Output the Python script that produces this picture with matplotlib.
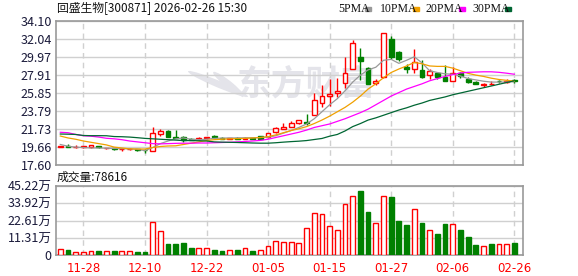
import matplotlib
matplotlib.use("Agg")
import matplotlib.pyplot as plt
from matplotlib.patches import Ellipse, Rectangle
import numpy as np

plt.rcParams['font.family'] = ['Noto Sans CJK SC', 'DejaVu Sans']

title = "回盛生物[300871] 2026-02-26 15:30"
vol_caption = "成交量:78616"

opens = [19.70, 19.78, 19.62, 19.66, 19.64, 19.74, 19.50, 19.52, 19.38, 19.40, 19.42, 19.36,
         19.24, 21.15, 21.50, 20.80, 20.85, 20.62, 20.55, 20.68, 20.95, 20.72, 20.60, 20.70,
         20.62, 20.70, 20.90, 20.78, 21.35, 21.75, 22.00, 22.38, 22.50, 23.30, 24.74, 25.54,
         25.89, 26.96, 28.57, 29.94, 28.72, 26.96, 27.65, 32.04, 30.50, 28.87, 28.57, 28.49,
         27.88, 28.10, 27.65, 27.26, 28.10, 27.46, 27.15, 26.82, 26.86, 27.22, 27.10, 27.32]
highs = [19.80, 20.05, 19.92, 19.78, 19.92, 19.80, 19.60, 19.58, 19.50, 19.50, 19.48, 19.40,
         21.92, 21.73, 21.60, 21.65, 20.95, 20.75, 20.80, 20.85, 21.05, 20.85, 20.72, 20.78,
         20.80, 20.75, 20.95, 21.25, 21.90, 22.38, 22.68, 22.80, 23.40, 25.82, 26.77, 27.42,
         27.54, 29.94, 31.92, 30.97, 28.80, 27.40, 32.69, 32.40, 30.70, 29.20, 30.86, 29.63,
         28.55, 28.30, 29.06, 28.87, 28.20, 27.65, 27.25, 27.05, 27.25, 27.35, 27.40, 27.42]
lows = [19.62, 19.62, 19.58, 19.60, 19.60, 19.60, 19.40, 19.35, 19.18, 19.30, 19.25, 18.98,
        19.17, 20.92, 20.77, 20.70, 20.25, 20.45, 20.45, 20.60, 20.70, 20.55, 20.55, 20.55,
        20.58, 20.55, 20.55, 20.75, 21.30, 21.72, 21.95, 22.30, 22.15, 23.30, 24.30, 24.36,
        25.43, 26.40, 28.57, 27.34, 26.90, 26.80, 27.60, 29.70, 29.50, 28.15, 28.18, 27.60,
        27.50, 27.50, 27.20, 27.20, 27.55, 26.97, 26.85, 26.55, 26.80, 27.05, 27.00, 27.05]
closes = [19.74, 19.68, 19.70, 19.72, 19.86, 19.64, 19.56, 19.42, 19.46, 19.44, 19.32, 19.28,
          21.23, 21.50, 20.84, 20.70, 20.45, 20.52, 20.75, 20.80, 20.80, 20.62, 20.66, 20.62,
          20.72, 20.62, 20.62, 21.23, 21.84, 21.92, 22.38, 22.72, 22.42, 25.05, 25.50, 25.74,
          26.08, 28.10, 31.55, 29.55, 26.93, 27.22, 32.69, 29.97, 29.70, 28.57, 29.44, 27.65,
          28.37, 27.72, 27.26, 28.10, 27.80, 27.15, 26.92, 26.88, 26.89, 27.20, 27.22, 27.22]

ma5 = [19.95, 19.75, 19.65, 19.60, 19.55, 19.55, 19.52, 19.50, 19.48, 19.45, 19.40, 19.25,
       19.60, 20.05, 20.35, 20.60, 20.70, 20.55, 20.50, 20.55, 20.65, 20.68, 20.70, 20.70,
       20.72, 20.72, 20.75, 20.78, 20.95, 21.25, 21.55, 21.90, 22.30, 22.90, 23.70, 24.50,
       25.20, 26.10, 27.10, 27.90, 28.50, 28.80, 29.60, 29.70, 29.25, 29.60, 30.00, 29.30,
       28.40, 28.20, 28.05, 28.00, 27.80, 27.50, 27.35, 27.20, 27.10, 27.10, 27.10, 27.15]
ma10 = [20.92, 20.70, 20.55, 20.35, 20.20, 20.05, 19.90, 19.65, 19.55, 19.45, 19.43, 19.43,
        19.60, 19.72, 19.78, 19.80, 19.95, 20.10, 20.25, 20.40, 20.50, 20.55, 20.60, 20.62,
        20.65, 20.70, 20.75, 20.85, 21.05, 21.30, 21.55, 21.75, 22.00, 22.35, 22.75, 23.20,
        23.70, 24.20, 24.80, 25.50, 26.30, 26.90, 27.60, 28.20, 28.60, 28.95, 29.35, 29.20,
        28.95, 28.90, 28.90, 28.70, 28.40, 28.10, 27.90, 27.75, 27.55, 27.40, 27.30, 27.22]
ma20 = [21.35, 21.30, 21.10, 20.95, 20.90, 20.80, 20.66, 20.60, 20.50, 20.35, 20.25, 20.15,
        20.05, 20.02, 20.05, 20.08, 20.10, 20.10, 20.12, 20.12, 20.15, 20.18, 20.20, 20.25,
        20.30, 20.35, 20.42, 20.55, 20.75, 20.95, 21.15, 21.35, 21.60, 21.90, 22.10, 22.30,
        22.60, 22.90, 23.25, 23.60, 24.00, 24.50, 25.00, 25.50, 25.90, 26.30, 26.60, 26.90,
        27.25, 27.50, 27.75, 27.95, 28.15, 28.22, 28.25, 28.28, 28.28, 28.22, 28.12, 28.00]
ma30 = [21.15, 21.13, 21.10, 20.98, 20.96, 20.96, 20.95, 20.86, 20.84, 20.80, 20.73, 20.65,
        20.60, 20.55, 20.50, 20.45, 20.40, 20.40, 20.38, 20.35, 20.25, 20.22, 20.20, 20.18,
        20.15, 20.12, 20.10, 20.10, 20.15, 20.22, 20.28, 20.33, 20.40, 20.52, 20.64, 20.90,
        21.10, 21.50, 22.00, 22.35, 22.75, 23.00, 23.30, 23.60, 23.90, 24.15, 24.45, 24.70,
        25.00, 25.20, 25.40, 25.65, 25.85, 26.05, 26.25, 26.45, 26.65, 26.85, 27.05, 27.25]

volumes = [3.9, 3.5, 2.2, 2.2, 2.8, 3.0, 2.8, 3.0, 2.8, 2.8, 2.4, 2.4,
           21.8, 15.9, 7.6, 7.6, 8.2, 5.0, 4.6, 4.8, 3.7, 3.0, 3.5, 3.7,
           4.6, 3.0, 3.5, 5.9, 9.2, 8.7, 8.7, 8.0, 17.6, 27.4, 27.0, 19.0,
           16.3, 33.3, 38.8, 42.0, 28.3, 20.9, 38.8, 38.1, 22.4, 19.8, 30.1, 21.1,
           16.3, 13.9, 20.5, 20.2, 16.5, 12.0, 6.7, 5.9, 7.4, 7.2, 7.2, 7.86]
vol_up = [1, 0, 1, 1, 1, 0, 1, 0, 1, 1, 0, 0,
          1, 1, 0, 0, 0, 0, 1, 1, 0, 0, 1, 0,
          1, 0, 1, 1, 1, 1, 1, 1, 1, 1, 1, 1,
          1, 1, 1, 0, 0, 1, 1, 0, 0, 0, 1, 0,
          1, 0, 0, 1, 0, 0, 0, 1, 0, 1, 1, 0]

tick_idx = [3, 11, 19, 27, 35, 43, 51, 59]
tick_labels = ["11-28", "12-10", "12-22", "01-05", "01-15", "01-27", "02-06", "02-26"]
price_ticks = [17.60, 19.66, 21.73, 23.79, 25.85, 27.91, 29.97, 32.04, 34.10]
vol_ticks = [0, 11.31, 22.61, 33.92, 45.22]
vol_tick_labels = ["0", "11.31万", "22.61万", "33.92万", "45.22万"]
ma_names = ["5PMA", "10PMA", "20PMA", "30PMA"]

RED = "#ff0000"
GREEN = "#008000"
MA_COLORS = ["#999999", "#f0a000", "#ff00ff", "#006633"]
GRID = "#d0d0d0"
FRAME = "#999999"
LABEL = "#1a1a3a"
WM = "#e4e4ea"

W, H = 578, 276
fig = plt.figure(figsize=(W / 100, H / 100), dpi=100)
fig.patch.set_facecolor("white")

def fx(px):
    return px / W

def fy(py):
    return 1 - py / H

ax = fig.add_axes([fx(56), fy(165), fx(523) - fx(56), fy(21) - fy(165)])
axv = fig.add_axes([fx(56), fy(255.3), fx(523) - fx(56), fy(186) - fy(255.3)])

n = len(opens)
x = np.arange(n)
o = np.array(opens); c = np.array(closes); h = np.array(highs); l = np.array(lows)
up = c >= o
xlim = (-0.56, n - 1 + 1.13)

# watermark (logo + text)
ax.text((306 - 56) / 467, (165 - 84) / 144, "东方财富", transform=ax.transAxes, fontsize=25,
        fontweight="bold", color=WM, ha="center", va="center", zorder=0)
for dx, ang, w_, h_ in [(0, 35, 0.030, 0.22), (0.022, 20, 0.022, 0.18)]:
    ax.add_patch(Ellipse(((218 - 56) / 467 + dx, (165 - 84) / 144), w_, h_, angle=ang,
                         transform=ax.transAxes, facecolor=WM, edgecolor="none", zorder=0))

# grid
for yv in price_ticks:
    ax.axhline(yv, color=GRID, lw=1, zorder=1)
for ti in tick_idx:
    ax.axvline(ti, color=GRID, lw=1, ls=(0, (4, 3)), zorder=1)
    axv.axvline(ti, color=GRID, lw=1, ls=(0, (4, 3)), zorder=1)
for yv in vol_ticks:
    axv.axhline(yv, color=GRID, lw=1, zorder=1)

# candles
cols = np.where(up, RED, GREEN)
ax.vlines(x, l, h, colors=cols, lw=1, zorder=3)
bottoms = np.minimum(o, c)
heights = np.maximum(np.abs(c - o), 0.03)
ax.bar(x[up], heights[up], bottom=bottoms[up], width=0.62, facecolor="white",
       edgecolor=RED, lw=1, zorder=4)
ax.bar(x[~up], heights[~up], bottom=bottoms[~up], width=0.62, facecolor=GREEN,
       edgecolor=GREEN, lw=1, zorder=4)

# moving averages
for vals, col in zip([ma5, ma10, ma20, ma30], MA_COLORS):
    ax.plot(x, vals, color=col, lw=0.9, zorder=5)

ax.set_xlim(*xlim)
ax.set_ylim(price_ticks[0], price_ticks[-1])
ax.set_yticks(price_ticks)
ax.set_yticklabels([f"{v:.2f}" for v in price_ticks])
ax.set_xticks([])

# volume
vu = np.array(vol_up, dtype=bool)
v = np.array(volumes)
axv.bar(x[vu], v[vu], width=0.62, facecolor="white", edgecolor=RED, lw=1, zorder=3)
axv.bar(x[~vu], v[~vu], width=0.62, facecolor=GREEN, edgecolor=GREEN, lw=1, zorder=3)
axv.set_xlim(*xlim)
axv.set_ylim(0, vol_ticks[-1])
axv.set_yticks(vol_ticks)
axv.set_yticklabels(vol_tick_labels)
axv.set_xticks(tick_idx)
axv.set_xticklabels(tick_labels)

for a in (ax, axv):
    for s in a.spines.values():
        s.set_color(FRAME)
        s.set_linewidth(1.2)
    a.tick_params(axis="y", length=0, pad=3, labelsize=9, colors=LABEL)
    a.tick_params(axis="x", length=0)
    a.set_facecolor("white")
axv.tick_params(axis="x", pad=5, labelsize=8.5, colors=RED)
for t in axv.get_xticklabels():
    t.set_family(["DejaVu Sans"])

# texts
fig.text(fx(57), fy(9), title, fontsize=8.5, ha="left", va="center", color="#111111")
fig.text(fx(57), fy(177), vol_caption, fontsize=8.5, ha="left", va="center", color="#111111")

# legend
lx = [338, 380, 426, 472]
for name, col, px in zip(ma_names, MA_COLORS, lx):
    fig.text(fx(px), fy(9.5), name, fontsize=8.5, ha="left", va="center", color="#111111",
             family=["Liberation Serif"])
    sx = px + (27 if name == "5PMA" else 33)
    fig.patches.append(Rectangle((fx(sx), fy(11)), fx(6), fy(7) - fy(11),
                                 transform=fig.transFigure, color=col))

fig.savefig("out.png", dpi=100, facecolor="white")
